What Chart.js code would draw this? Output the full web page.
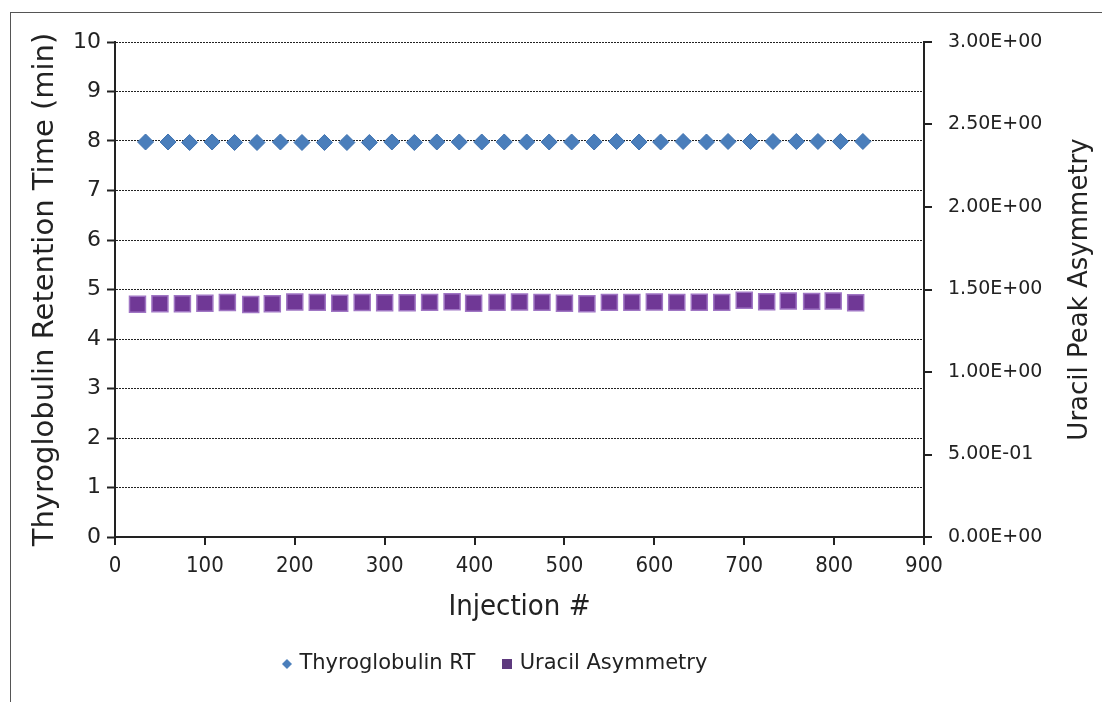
<!DOCTYPE html>
<html>
<head>
<meta charset="utf-8">
<script src="https://cdn.jsdelivr.net/npm/chart.js@4.4.1/dist/chart.umd.min.js"></script>
<style>
  body { margin: 0; background: #fff; overflow: hidden; }
  #wrap { position: relative; width: 1102px; height: 702px; }
  #frame { position: absolute; left: 10px; top: 12px; width: 1200px; height: 800px; border: 1px solid #555; pointer-events: none; }
  canvas { position: absolute; left: 0; top: 0; }
</style>
</head>
<body>
<div id="wrap">
  <canvas id="chart" width="1102" height="702"></canvas>
  <div id="frame"></div>
</div>
<script>
// values
const rtInjections = [34, 59, 83, 108, 133, 158, 184, 208, 233, 258, 283, 308, 333, 358, 383, 408, 433,
  458, 483, 508, 533, 558, 583, 607, 632, 658, 682, 707, 732, 758, 782, 807, 832];
const rtMinutes = [7.98, 7.98, 7.97, 7.98, 7.97, 7.97, 7.98, 7.97, 7.97, 7.97, 7.97, 7.98, 7.97, 7.98, 7.98, 7.98, 7.98,
  7.98, 7.98, 7.98, 7.98, 7.99, 7.98, 7.98, 7.99, 7.98, 7.99, 7.99, 7.99, 7.99, 7.99, 7.99, 7.99];

const uracilInjections = [25, 50, 75, 100, 125, 151, 175, 200, 225, 250, 275, 300, 325, 350, 375, 399, 425,
  450, 475, 500, 525, 550, 575, 600, 625, 650, 675, 700, 725, 749, 775, 799, 824];
const uracilAsym = [1.411, 1.413, 1.413, 1.416, 1.421, 1.409, 1.414, 1.424, 1.422, 1.416, 1.421, 1.419, 1.419, 1.422, 1.426, 1.416, 1.422,
  1.424, 1.422, 1.416, 1.414, 1.422, 1.422, 1.424, 1.422, 1.423, 1.422, 1.435, 1.426, 1.430, 1.428, 1.430, 1.420];

const seriesNames = ["Thyroglobulin RT", "Uracil Asymmetry"];
const leftTitle = "Thyroglobulin Retention Time (min)";
const rightTitle = "Uracil Peak Asymmetry";
const xTitle = "Injection #";

const blue = "#4A7EBB";
const purple = "rgb(112,56,150)";
const ink = "#222";

function sci(v) {
  if (v === 0) return "0.00E+00";
  const e = Math.floor(Math.log10(v) + 1e-9);
  const m = v / Math.pow(10, e);
  return m.toFixed(2) + "E" + (e < 0 ? "-" : "+") + String(Math.abs(e)).padStart(2, "0");
}

function icon(kind, color, size) {
  const c = document.createElement("canvas");
  c.width = size;
  c.height = size;
  const g = c.getContext("2d");
  g.fillStyle = color;
  if (kind === "diamond") {
    g.beginPath();
    g.moveTo(size / 2, 0);
    g.lineTo(size, size / 2);
    g.lineTo(size / 2, size);
    g.lineTo(0, size / 2);
    g.closePath();
    g.fill();
  } else {
    g.fillRect(0, 0, size, size);
  }
  return c;
}

const legendIcons = [icon("diamond", blue, 10), icon("square", "#5E3A7E", 10)];

// vertical axis titles, both read bottom-to-top like the reference
const sideTitles = {
  id: "sideTitles",
  afterDraw(chart) {
    const ctx = chart.ctx;
    const a = chart.chartArea;
    const midY = (a.top + a.bottom) / 2;
    ctx.save();
    ctx.fillStyle = ink;
    ctx.textAlign = "center";
    ctx.textBaseline = "middle";

    ctx.font = "29px 'DejaVu Sans'";
    ctx.translate(45, midY);
    ctx.rotate(-Math.PI / 2);
    ctx.fillText(leftTitle, 0, 0);
    ctx.restore();

    ctx.save();
    ctx.fillStyle = ink;
    ctx.textAlign = "center";
    ctx.textBaseline = "middle";
    ctx.font = "26px 'DejaVu Sans'";
    ctx.translate(chart.scales.y2.right - 22, midY);
    ctx.rotate(-Math.PI / 2);
    ctx.fillText(rightTitle, 0, 0);
    ctx.restore();
  }
};

const ctx = document.getElementById("chart").getContext("2d");
new Chart(ctx, {
  type: "scatter",
  data: {
    datasets: [
      {
        label: seriesNames[0],
        data: rtInjections.map((x, i) => ({ x: x, y: rtMinutes[i] })),
        yAxisID: "y",
        pointStyle: "rectRot",
        pointRadius: 8,
        backgroundColor: blue,
        borderColor: "#3F72B0",
        borderWidth: 1,
      },
      {
        label: seriesNames[1],
        data: uracilInjections.map((x, i) => ({ x: x, y: uracilAsym[i] })),
        yAxisID: "y2",
        pointStyle: "rect",
        pointRadius: 11.3,
        backgroundColor: purple,
        borderColor: "rgb(160,118,196)",
        borderWidth: 1.5,
      },
    ],
  },
  options: {
    responsive: false,
    animation: false,
    layout: { padding: { top: 42, left: 0, right: 0, bottom: 17.5 } },
    plugins: {
      tooltip: { enabled: false },
      legend: {
        position: "bottom",
        fullSize: false,
        labels: {
          usePointStyle: true,
          boxWidth: 4,
          padding: 30,
          color: ink,
          font: { family: "DejaVu Sans", size: 21 },
          generateLabels: function (chart) {
            return seriesNames.map((name, i) => ({
              text: i === 1 ? name + "\u00a0\u00a0\u00a0\u00a0\u00a0\u00a0\u00a0" : name,
              pointStyle: legendIcons[i],
              fillStyle: "transparent",
              strokeStyle: "transparent",
              lineWidth: 0,
              fontColor: ink,
              hidden: false,
              datasetIndex: i,
            }));
          },
        },
      },
    },
    scales: {
      x: {
        type: "linear",
        min: 0,
        max: 900,
        afterFit: (s) => { s.height = 86.5; },
        ticks: {
          stepSize: 100,
          padding: 8,
          color: ink,
          font: { family: "DejaVu Sans Condensed", size: 22 },
        },
        grid: { drawOnChartArea: false, tickLength: 8, lineWidth: 2, color: ink },
        border: { color: ink, width: 2 },
        title: {
          display: true,
          text: xTitle,
          color: ink,
          font: { family: "DejaVu Sans Condensed", size: 29 },
          padding: { top: 0, bottom: -1 },
        },
      },
      y: {
        position: "left",
        min: 0,
        max: 10,
        afterFit: (s) => { s.width = 115; },
        ticks: {
          stepSize: 1,
          padding: 6,
          color: ink,
          font: { family: "DejaVu Sans", size: 22 },
        },
        grid: {
          color: ink,
          lineWidth: 1,
          tickLength: 8,
          tickWidth: 2,
          tickBorderDash: [],
        },
        border: { color: ink, width: 2, dash: [2, 1] },
      },
      y2: {
        position: "right",
        min: 0,
        max: 3,
        afterFit: (s) => { s.width = 178; },
        ticks: {
          stepSize: 0.5,
          padding: 16,
          color: ink,
          font: { family: "DejaVu Sans", size: 19 },
          callback: (v) => sci(v),
        },
        grid: { drawOnChartArea: false, tickLength: 8, lineWidth: 2, color: ink },
        border: { color: ink, width: 2 },
      },
    },
  },
  plugins: [sideTitles],
});
</script>
</body>
</html>
